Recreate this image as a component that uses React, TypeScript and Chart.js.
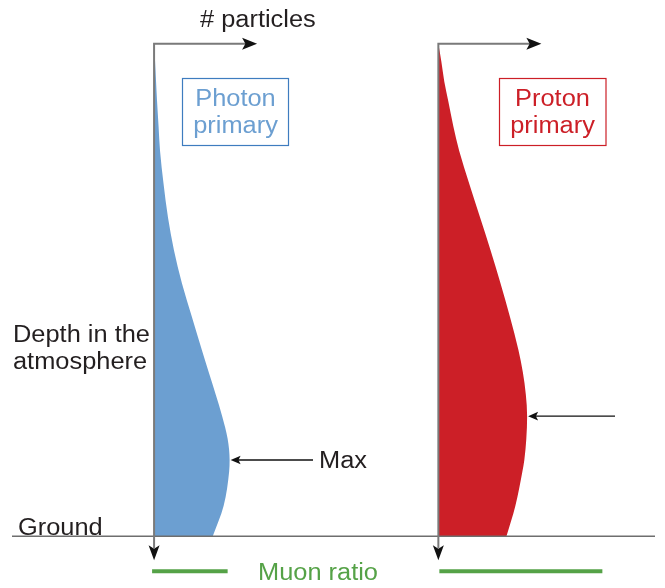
import React, { useEffect, useRef } from "react";
import { Chart, registerables } from "chart.js";

Chart.register(...registerables);

// Depth in the atmosphere (arbitrary units, 0 = top, 1000 = ground)
const depth = [0, 36, 77, 117, 167, 218, 284, 353, 419, 486, 554, 621, 667, 712, 756, 802, 845, 869, 938, 1000];
// Number of particles (arbitrary units)
const photonParticles = [0, 0.01, 0.02, 0.03, 0.045, 0.06, 0.095, 0.14, 0.2, 0.28, 0.38, 0.48, 0.55, 0.62, 0.685, 0.74, 0.76, 0.755, 0.7, 0.59];
const protonParticles = [0, 0.03, 0.06, 0.1, 0.15, 0.21, 0.31, 0.42, 0.525, 0.625, 0.72, 0.805, 0.85, 0.88, 0.893, 0.885, 0.865, 0.845, 0.775, 0.685];
// Muon ratio bar lengths (photon, proton)
const muonRatio = [0.76, 1.64];

const photonLabel = ["Photon", "primary"];
const protonLabel = ["Proton", "primary"];
const axisLabel = "# particles";
const depthLabel = ["Depth in the", "atmosphere"];
const groundLabel = "Ground";
const maxLabel = "Max";
const muonLabel = "Muon ratio";

const PHOTON_BASE = 0;
const PROTON_BASE = 2.86;
const GROUND = 1000;
const MUON_DEPTH = 1071;

const FONT = '23.3px "Liberation Sans", Arial, sans-serif';
const HSCALE = 1.09;
const TEXT = "#231f20";
const BLUE = "#6c9fd1";
const BLUE_BOX = "#3e7cbf";
const RED = "#cc1f27";
const GREEN = "#55a247";
const GRAY = "#7a7a7a";

function arrowHead(ctx: CanvasRenderingContext2D, tx: number, ty: number, dx: number, dy: number, len: number, half: number) {
  const bx = tx - dx * len, by = ty - dy * len;
  const px = -dy, py = dx;
  const nx = tx - dx * len * 0.78, ny = ty - dy * len * 0.78;
  ctx.beginPath();
  ctx.moveTo(tx, ty);
  ctx.lineTo(bx + px * half, by + py * half);
  ctx.lineTo(nx, ny);
  ctx.lineTo(bx - px * half, by - py * half);
  ctx.closePath();
  ctx.fill();
}

function seg(ctx: CanvasRenderingContext2D, x1: number, y1: number, x2: number, y2: number) {
  ctx.beginPath();
  ctx.moveTo(x1, y1);
  ctx.lineTo(x2, y2);
  ctx.stroke();
}

function text(ctx: CanvasRenderingContext2D, s: string, x: number, y: number, align: "left" | "center") {
  ctx.save();
  ctx.translate(x, y);
  ctx.scale(HSCALE, 1);
  ctx.textAlign = align;
  ctx.fillText(s, 0, 0);
  ctx.restore();
}

const overlay = {
  id: "overlay",
  afterDatasetsDraw(chart: any) {
    const ctx: CanvasRenderingContext2D = chart.ctx;
    const xs = chart.scales.x, ys = chart.scales.y;
    const top = ys.getPixelForValue(0);
    const ground = ys.getPixelForValue(GROUND);
    ctx.save();

    // ground line
    ctx.strokeStyle = "#6e6e6e";
    ctx.lineWidth = 1.5;
    seg(ctx, 12, ground, 655, ground);

    // axes
    [PHOTON_BASE, PROTON_BASE].forEach((base) => {
      const bx = xs.getPixelForValue(base);
      ctx.strokeStyle = GRAY;
      ctx.lineWidth = 2;
      ctx.beginPath();
      ctx.moveTo(bx, ground + 12);
      ctx.lineTo(bx, top);
      ctx.lineTo(bx + 92, top);
      ctx.stroke();
      ctx.fillStyle = "#111";
      arrowHead(ctx, bx + 103, top, 1, 0, 15, 6);
      arrowHead(ctx, bx, ground + 24, 0, 1, 15, 5.5);
    });

    // Max arrows
    const drawMax = (base: number, vals: number[], endX: number) => {
      let mi = 0;
      vals.forEach((v, i) => { if (v > vals[mi]) mi = i; });
      const tx = xs.getPixelForValue(base + vals[mi]) + 1;
      const ty = ys.getPixelForValue(depth[mi]);
      ctx.strokeStyle = "#111";
      ctx.lineWidth = 1.3;
      seg(ctx, tx + 7, ty, endX, ty);
      ctx.fillStyle = "#111";
      arrowHead(ctx, tx, ty, -1, 0, 10, 4.3);
      return ty;
    };
    const my = drawMax(PHOTON_BASE, photonParticles, 313);
    drawMax(PROTON_BASE, protonParticles, 615);

    // texts
    ctx.font = FONT;
    ctx.textBaseline = "alphabetic";
    ctx.fillStyle = TEXT;
    text(ctx, axisLabel, 200, 27, "left");
    text(ctx, depthLabel[0], 13, 342, "left");
    text(ctx, depthLabel[1], 13, 369, "left");
    text(ctx, groundLabel, 18, 535, "left");
    text(ctx, maxLabel, 319, my + 8, "left");

    ctx.fillStyle = GREEN;
    text(ctx, muonLabel, 318, 580, "center");

    // boxes
    ctx.lineWidth = 1.2;
    ctx.strokeStyle = BLUE_BOX;
    ctx.strokeRect(182.5, 78.5, 106, 67);
    ctx.fillStyle = BLUE;
    text(ctx, photonLabel[0], 235.5, 106, "center");
    text(ctx, photonLabel[1], 235.5, 133, "center");

    ctx.strokeStyle = RED;
    ctx.strokeRect(499.5, 78.5, 106.5, 67);
    ctx.fillStyle = RED;
    text(ctx, protonLabel[0], 552.5, 106, "center");
    text(ctx, protonLabel[1], 552.5, 133, "center");

    ctx.restore();
  },
};

export default function App() {
  const ref = useRef<HTMLCanvasElement>(null);
  useEffect(() => {
    const profile = (base: number, vals: number[]) => depth.map((d, i) => ({ x: base + vals[i], y: d }));
    const bar = (start: number, len: number) => [
      { x: start, y: MUON_DEPTH },
      { x: start + len, y: MUON_DEPTH },
    ];
    const chart = new Chart(ref.current as HTMLCanvasElement, {
      type: "line",
      data: {
        datasets: [
          {
            label: "Photon primary",
            data: profile(PHOTON_BASE, photonParticles),
            backgroundColor: BLUE,
            borderColor: "rgba(0,0,0,0)",
            borderWidth: 0,
            pointRadius: 0,
            cubicInterpolationMode: "monotone",
            fill: { value: PHOTON_BASE },
          },
          {
            label: "Proton primary",
            data: profile(PROTON_BASE, protonParticles),
            backgroundColor: RED,
            borderColor: "rgba(0,0,0,0)",
            borderWidth: 0,
            pointRadius: 0,
            cubicInterpolationMode: "monotone",
            fill: { value: PROTON_BASE },
          },
          {
            label: "Muon ratio photon",
            data: bar(PHOTON_BASE - 0.02, muonRatio[0]),
            borderColor: GREEN,
            borderWidth: 4,
            pointRadius: 0,
            fill: false,
          },
          {
            label: "Muon ratio proton",
            data: bar(PROTON_BASE + 0.01, muonRatio[1]),
            borderColor: GREEN,
            borderWidth: 4,
            pointRadius: 0,
            fill: false,
          },
        ] as any,
      },
      options: {
        indexAxis: "y",
        responsive: false,
        maintainAspectRatio: false,
        animation: false,
        devicePixelRatio: 1,
        layout: { padding: 0 },
        scales: {
          x: { type: "linear", display: false, min: -1.53, max: 5.12 },
          y: { type: "linear", display: false, reverse: true, min: -84.68, max: 1100.8 },
        },
        plugins: {
          legend: { display: false },
          tooltip: { enabled: false },
        },
      } as any,
      plugins: [overlay],
    });
    const fonts = (document as any).fonts;
    if (fonts && fonts.load) {
      fonts.load(FONT).then(() => chart.update()).catch(() => {});
    }
    return () => chart.destroy();
  }, []);
  return (
    <div style={{ position: "fixed", left: 0, top: 0, width: 665, height: 588, background: "#fff" }}>
      <canvas ref={ref} width={665} height={588} style={{ display: "block", width: 665, height: 588 }} />
    </div>
  );
}
